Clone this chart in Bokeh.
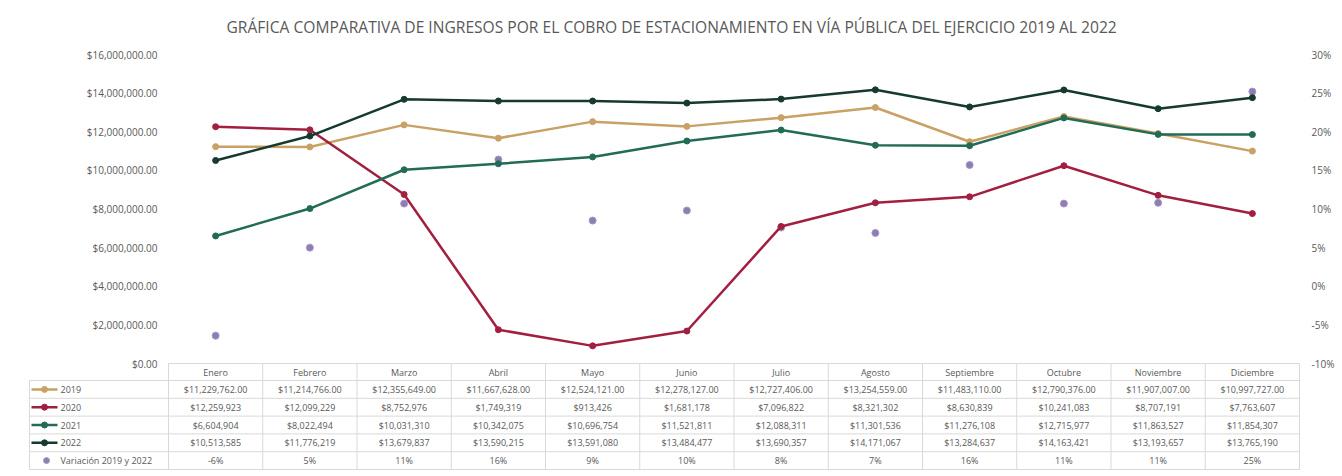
import math
from bokeh.plotting import figure
from bokeh.models import Range1d, LinearAxis, FixedTicker, NumeralTickFormatter
from bokeh.embed import file_html
from bokeh.resources import INLINE
from bokeh.core.properties import value

# ---------------- data ----------------
months = ["Enero", "Febrero", "Marzo", "Abril", "Mayo", "Junio", "Julio",
          "Agosto", "Septiembre", "Octubre", "Noviembre", "Diciembre"]
ingresos_2019 = [11229762.00, 11214766.00, 12355649.00, 11667628.00, 12524121.00, 12278127.00,
                 12727406.00, 13254559.00, 11483110.00, 12790376.00, 11907007.00, 10997727.00]
ingresos_2020 = [12259923, 12099229, 8752976, 1749319, 913426, 1681178,
                 7096822, 8321302, 8630839, 10241083, 8707191, 7763607]
ingresos_2021 = [6604904, 8022494, 10031310, 10342075, 10696754, 11521811,
                 12088311, 11301536, 11276108, 12715977, 11863527, 11854307]
ingresos_2022 = [10513585, 11776219, 13679837, 13590215, 13591080, 13484477,
                 13690357, 14171067, 13284637, 14163421, 13193657, 13765190]
variacion_pct = [-6.4, 5.0, 10.7, 16.4, 8.5, 9.8, 7.6, 6.9, 15.7, 10.7, 10.8, 25.2]
series_names = ["2019", "2020", "2021", "2022"]
variacion_name = "Variación 2019 y 2022"
left_ticks = [0, 2e6, 4e6, 6e6, 8e6, 10e6, 12e6, 14e6, 16e6]
right_ticks = [-0.10, -0.05, 0.0, 0.05, 0.10, 0.15, 0.20, 0.25, 0.30]
title_text = ("GRÁFICA COMPARATIVA DE INGRESOS POR EL COBRO DE ESTACIONAMIENTO "
              "EN VÍA PÚBLICA DEL EJERCICIO 2019 AL 2022")

# ---------------- styles / layout constants ----------------
colors = ["#C9A164", "#A21F40", "#226B54", "#173A2E"]
var_color = "#8E7DB3"
var_edge = "#A797C6"
grid_col = "#D9D9D9"
txt_col = "#595959"
FONT = "Open Sans"

W, H = 1340, 474
COLW = 94.25                  # px per month column
X0_PAGE = 168                 # page x of month column 0 left edge
FRAME_L_PAGE, FRAME_R_PAGE = 28, W
FRAME_T_PAGE = 40
FRAME_B_PAGE = H
ZERO_PAGE = 363               # page y of value 0
PLOT_PX = 309                 # px from 0 to 16M
HDR_TOP, HDR_BOT = 363, 380
ROW_H = 17.8
NROWS = 5

ymax = 16e6
pmin, pmax = -0.10, 0.30

def px2x(page_x):
    return (page_x - X0_PAGE) / COLW

def py2y(page_y):
    return ymax * (ZERO_PAGE - page_y) / PLOT_PX

def py2p(page_y):
    return pmin + (pmax - pmin) * (ZERO_PAGE - page_y) / PLOT_PX

xs = [i + 0.5 for i in range(12)]
all_series = [ingresos_2019, ingresos_2020, ingresos_2021, ingresos_2022]

p = figure(width=W, height=H, output_backend="svg", toolbar_location=None,
           x_range=Range1d(px2x(FRAME_L_PAGE), px2x(FRAME_R_PAGE)),
           y_range=Range1d(py2y(FRAME_B_PAGE), py2y(FRAME_T_PAGE)),
           x_axis_location=None, y_axis_location=None,
           min_border_left=FRAME_L_PAGE, min_border_right=W - FRAME_R_PAGE,
           min_border_top=FRAME_T_PAGE, min_border_bottom=0,
           title=title_text)
p.extra_y_ranges = {"pct": Range1d(py2p(FRAME_B_PAGE), py2p(FRAME_T_PAGE))}
p.outline_line_color = None
p.grid.visible = False
p.title.text_font = FONT
p.title.text_font_size = "15.6px"
p.title.text_font_style = "normal"
p.title.text_color = txt_col
p.title.align = "left"
p.title.offset = 198
p.title.standoff = 6

ax_l = LinearAxis(ticker=FixedTicker(ticks=left_ticks), fixed_location=0,
                  formatter=NumeralTickFormatter(format="$0,0.00"))
ax_r = LinearAxis(y_range_name="pct", ticker=FixedTicker(ticks=right_ticks), fixed_location=12,
                  formatter=NumeralTickFormatter(format="0%"))
for ax in (ax_l, ax_r):
    ax.axis_line_color = None
    ax.major_tick_line_color = None
    ax.minor_tick_line_color = None
    ax.major_tick_out = 0
    ax.major_tick_in = 0
    ax.major_label_text_font = FONT
    ax.major_label_text_font_size = "10px"
    ax.major_label_text_color = txt_col
ax_l.major_label_standoff = 11
ax_r.major_label_standoff = 12
p.add_layout(ax_l, "left")
p.add_layout(ax_r, "right")

# ---------------- table grid ----------------
y_hdr_top = py2y(HDR_TOP)
row_edges = [py2y(HDR_BOT + k * ROW_H) for k in range(NROWS + 1)]
y_bottom = row_edges[-1]
x_leg = px2x(FRAME_L_PAGE + 1)
p.segment(x0=[0], y0=[y_hdr_top], x1=[12], y1=[y_hdr_top], line_color=grid_col, line_width=1)
p.segment(x0=list(range(13)), y0=[y_hdr_top] * 13, x1=list(range(13)), y1=[y_bottom] * 13,
          line_color=grid_col, line_width=1)
p.segment(x0=[x_leg], y0=[row_edges[0]], x1=[x_leg], y1=[y_bottom], line_color=grid_col, line_width=1)
p.segment(x0=[x_leg] * (NROWS + 1), y0=row_edges, x1=[12] * (NROWS + 1), y1=row_edges,
          line_color=grid_col, line_width=1)

hdr_y = py2y((HDR_TOP + HDR_BOT) / 2)
p.text(x=xs, y=[hdr_y] * 12, text=months, text_align="center", text_baseline="middle",
       text_font=value(FONT), text_font_size="9px", text_color=txt_col)

# ---------------- chart marks ----------------
p.scatter(xs, [v / 100 for v in variacion_pct], y_range_name="pct", size=7,
          fill_color=var_color, line_color=var_edge, line_width=1)
for vals, c in zip(all_series, colors):
    p.line(xs, vals, line_color=c, line_width=2.5)
    p.scatter(xs, vals, size=6, fill_color=c, line_color=c)

# ---------------- table body ----------------
row_names = series_names + [variacion_name]
for i, name in enumerate(row_names):
    yc = py2y(HDR_BOT + (i + 0.5) * ROW_H)
    if i < 4:
        vals = all_series[i]
        fmt = "${:,.2f}" if i == 0 else "${:,.0f}"
        labels = [fmt.format(v) for v in vals]
        c = colors[i]
        p.segment(x0=[px2x(31)], y0=[yc], x1=[px2x(57)], y1=[yc], line_color=c, line_width=2.5)
        p.scatter([px2x(44)], [yc], size=6, fill_color=c, line_color=c)
    else:
        labels = ["{}%".format(int(math.floor(v + 0.5))) for v in variacion_pct]
        p.scatter([px2x(46)], [yc], size=6, fill_color=var_color, line_color=var_edge)
    p.text(x=[px2x(60)], y=[yc], text=[name], text_align="left", text_baseline="middle",
           text_font=value(FONT), text_font_size="9px", text_color=txt_col)
    p.text(x=xs, y=[yc] * 12, text=labels, text_align="center", text_baseline="middle",
           text_font=value(FONT), text_font_size="9px", text_color=txt_col)

open("out.html", "w").write(file_html(p, INLINE))
